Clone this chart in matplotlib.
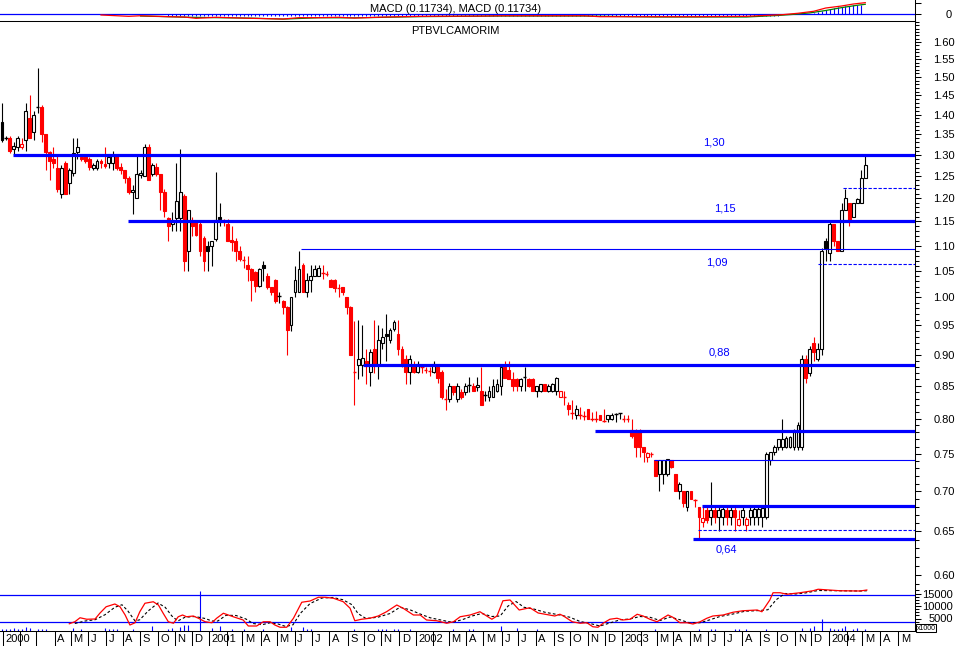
import numpy as np
import pandas as pd
import matplotlib
matplotlib.use('Agg')
import matplotlib.pyplot as plt
from matplotlib.ticker import FixedLocator, NullFormatter, NullLocator, FuncFormatter

plt.rcParams['font.family'] = ['Liberation Sans', 'DejaVu Sans']

# weekly candles, first week = 3 Jan 2000
opens = [1.38, 1.34, 1.34, 1.315, 1.32, 1.318, 1.337, 1.39, 1.355, 1.42,
         1.42, 1.35, 1.306, 1.29, 1.27, 1.21, 1.28, 1.235, 1.258, 1.306,
         1.295, 1.298, 1.29, 1.27, 1.27, 1.285, 1.278, 1.28, 1.28, 1.298,
         1.272, 1.265, 1.245, 1.213, 1.20, 1.252, 1.25, 1.32, 1.255, 1.272,
         1.255, 1.215, 1.157, 1.145, 1.157, 1.157, 1.205, 1.09, 1.15, 1.148,
         1.145, 1.115, 1.10, 1.10, 1.113, 1.16, 1.153, 1.145, 1.112, 1.11,
         1.09, 1.075, 1.062, 1.053, 1.047, 1.022, 1.062, 1.04, 1.02, 1.032,
         1.00, 0.994, 0.983, 0.95, 1.01, 1.01, 1.062, 1.01, 1.032, 1.04,
         1.04, 1.048, 1.046, 1.032, 1.032, 1.02, 1.02, 1.00, 0.983, 0.872,
         0.883, 0.883, 0.89, 0.872, 0.91, 0.883, 0.92, 0.935, 0.925, 0.944,
         0.935, 0.91, 0.893, 0.872, 0.883, 0.872, 0.88, 0.877, 0.876, 0.872,
         0.88, 0.872, 0.832, 0.83, 0.85, 0.83, 0.84, 0.84,
         0.85, 0.85, 0.848, 0.842, 0.834, 0.833, 0.833, 0.842, 0.85, 0.88,
         0.875, 0.86, 0.86, 0.85, 0.862, 0.86, 0.86, 0.842, 0.842, 0.852,
         0.842, 0.842, 0.842, 0.833, 0.834, 0.82, 0.81, 0.805, 0.806, 0.805,
         0.814, 0.80, 0.80, 0.805, 0.798, 0.80, 0.80, 0.806, 0.807, 0.80,
         0.80, 0.784, 0.782, 0.782, 0.76, 0.745, 0.752, 0.741, 0.722, 0.722,
         0.722, 0.741, 0.722, 0.70, 0.70, 0.68, 0.70, 0.69, 0.68, 0.661, 0.676,
         0.667, 0.676, 0.667, 0.667, 0.676, 0.667, 0.676, 0.658, 0.667, 0.658,
         0.667, 0.667, 0.667, 0.667, 0.667,
         0.741, 0.752, 0.76, 0.76, 0.76, 0.76, 0.76, 0.76, 0.76, 0.893,
         0.87, 0.92, 0.893, 0.91, 1.11, 1.085, 1.145, 1.11, 1.09, 1.174,
         1.19, 1.16, 1.19, 1.19, 1.245]
highs = [1.43, 1.345, 1.345, 1.33, 1.345, 1.34, 1.43, 1.45, 1.41, 1.525,
         1.425, 1.35, 1.31, 1.32, 1.30, 1.275, 1.285, 1.27, 1.34, 1.34,
         1.30, 1.30, 1.295, 1.28, 1.29, 1.29, 1.32, 1.30, 1.31, 1.30,
         1.28, 1.265, 1.25, 1.23, 1.30, 1.265, 1.325, 1.325, 1.28, 1.28,
         1.255, 1.22, 1.16, 1.17, 1.28, 1.315, 1.21, 1.175, 1.16, 1.15,
         1.15, 1.12, 1.11, 1.11, 1.26, 1.19, 1.155, 1.155, 1.14, 1.115,
         1.10, 1.08, 1.08, 1.055, 1.05, 1.055, 1.07, 1.045, 1.02, 1.035,
         1.01, 0.995, 0.985, 1.00, 1.06, 1.09, 1.065, 1.045, 1.062, 1.062,
         1.062, 1.062, 1.05, 1.035, 1.035, 1.025, 1.02, 1.00, 0.985, 0.958,
         0.96, 0.95, 0.91, 0.91, 0.96, 0.95, 0.945, 0.97, 0.945, 0.96,
         0.96, 0.915, 0.90, 0.90, 0.89, 0.89, 0.885, 0.88, 0.88, 0.89,
         0.885, 0.875, 0.845, 0.855, 0.85, 0.855, 0.845, 0.855,
         0.863, 0.855, 0.863, 0.88, 0.842, 0.85, 0.86, 0.86, 0.88, 0.89,
         0.89, 0.872, 0.862, 0.862, 0.88, 0.862, 0.862, 0.85, 0.852, 0.853,
         0.852, 0.855, 0.863, 0.842, 0.842, 0.825, 0.828, 0.82, 0.818, 0.812,
         0.815, 0.81, 0.812, 0.806, 0.815, 0.806, 0.808, 0.808, 0.808, 0.805,
         0.805, 0.80, 0.785, 0.785, 0.76, 0.752, 0.752, 0.741, 0.741, 0.741,
         0.741, 0.742, 0.722, 0.712, 0.70, 0.70, 0.70, 0.69, 0.68, 0.68, 0.68,
         0.712, 0.68, 0.68, 0.68, 0.68, 0.68, 0.68, 0.676, 0.68, 0.667,
         0.68, 0.68, 0.68, 0.68, 0.752,
         0.752, 0.762, 0.77, 0.80, 0.775, 0.775, 0.785, 0.795, 0.90, 0.90,
         0.915, 0.93, 0.92, 1.095, 1.115, 1.15, 1.145, 1.11, 1.19, 1.22,
         1.19, 1.19, 1.20, 1.264, 1.30]
lows = [1.33, 1.335, 1.305, 1.30, 1.31, 1.315, 1.31, 1.34, 1.335, 1.405,
        1.33, 1.265, 1.24, 1.27, 1.215, 1.20, 1.21, 1.21, 1.25, 1.29,
        1.285, 1.28, 1.265, 1.265, 1.265, 1.27, 1.27, 1.27, 1.265, 1.265,
        1.255, 1.235, 1.21, 1.165, 1.20, 1.245, 1.25, 1.24, 1.25, 1.25,
        1.175, 1.16, 1.11, 1.13, 1.13, 1.13, 1.05, 1.05, 1.12, 1.12,
        1.08, 1.05, 1.05, 1.06, 1.11, 1.14, 1.14, 1.11, 1.09, 1.07,
        1.07, 1.055, 1.03, 0.994, 1.01, 1.02, 1.03, 1.015, 1.005, 0.99,
        0.99, 0.97, 0.90, 0.94, 1.00, 1.01, 1.01, 1.00, 1.01, 1.04,
        1.04, 1.035, 1.04, 1.02, 1.01, 1.00, 1.005, 0.97, 0.90, 0.82,
        0.86, 0.865, 0.853, 0.85, 0.87, 0.86, 0.91, 0.89, 0.92, 0.94,
        0.90, 0.88, 0.853, 0.853, 0.87, 0.87, 0.87, 0.87, 0.865, 0.87,
        0.855, 0.83, 0.813, 0.825, 0.835, 0.825, 0.83, 0.835,
        0.84, 0.842, 0.842, 0.82, 0.826, 0.826, 0.833, 0.84, 0.836, 0.862,
        0.862, 0.842, 0.842, 0.842, 0.842, 0.848, 0.842, 0.833, 0.84, 0.842,
        0.84, 0.84, 0.835, 0.833, 0.82, 0.806, 0.80, 0.80, 0.80, 0.798,
        0.80, 0.796, 0.795, 0.80, 0.795, 0.795, 0.798, 0.795, 0.80, 0.795,
        0.795, 0.772, 0.745, 0.745, 0.738, 0.738, 0.745, 0.72, 0.70, 0.71,
        0.72, 0.73, 0.70, 0.69, 0.68, 0.675, 0.69, 0.68, 0.64, 0.655, 0.66,
        0.658, 0.66, 0.65, 0.658, 0.658, 0.658, 0.65, 0.656, 0.658, 0.65,
        0.658, 0.658, 0.658, 0.655, 0.665,
        0.735, 0.748, 0.755, 0.755, 0.758, 0.758, 0.755, 0.755, 0.755, 0.855,
        0.865, 0.89, 0.89, 0.90, 1.07, 1.07, 1.10, 1.09, 1.09, 1.174,
        1.14, 1.16, 1.19, 1.19, 1.245]
closes = [1.337, 1.342, 1.31, 1.322, 1.34, 1.327, 1.41, 1.34, 1.40, 1.42,
          1.35, 1.306, 1.285, 1.28, 1.22, 1.27, 1.21, 1.265, 1.305, 1.32,
          1.29, 1.285, 1.272, 1.276, 1.285, 1.28, 1.274, 1.295, 1.297, 1.27,
          1.264, 1.245, 1.215, 1.218, 1.255, 1.258, 1.32, 1.24, 1.275, 1.255,
          1.215, 1.172, 1.14, 1.15, 1.195, 1.215, 1.07, 1.175, 1.14, 1.122,
          1.09, 1.07, 1.09, 1.11, 1.153, 1.155, 1.148, 1.11, 1.108, 1.09,
          1.073, 1.072, 1.053, 1.032, 1.022, 1.053, 1.055, 1.02, 1.01, 0.994,
          1.002, 0.983, 0.942, 1.00, 1.032, 1.053, 1.01, 1.032, 1.04, 1.053,
          1.055, 1.045, 1.044, 1.02, 1.018, 1.017, 1.01, 0.983, 0.90, 0.871,
          0.893, 0.895, 0.882, 0.905, 0.883, 0.925, 0.93, 0.931, 0.942, 0.956,
          0.91, 0.885, 0.872, 0.893, 0.872, 0.885, 0.88, 0.875, 0.874, 0.885,
          0.862, 0.832, 0.83, 0.85, 0.84, 0.85, 0.832, 0.85,
          0.851, 0.842, 0.851, 0.82, 0.835, 0.842, 0.85, 0.852, 0.88, 0.862,
          0.861, 0.85, 0.849, 0.86, 0.863, 0.85, 0.842, 0.85, 0.852, 0.842,
          0.85, 0.852, 0.862, 0.842, 0.833, 0.814, 0.809, 0.814, 0.805, 0.804,
          0.80, 0.80, 0.799, 0.798, 0.797, 0.805, 0.806, 0.807, 0.808, 0.80,
          0.799, 0.775, 0.76, 0.759, 0.752, 0.751, 0.75, 0.72, 0.741, 0.742,
          0.743, 0.732, 0.70, 0.71, 0.685, 0.70, 0.69, 0.689, 0.667, 0.666, 0.664,
          0.676, 0.667, 0.676, 0.677, 0.667, 0.676, 0.667, 0.665, 0.676, 0.665,
          0.676, 0.677, 0.678, 0.679, 0.75,
          0.752, 0.76, 0.77, 0.771, 0.772, 0.773, 0.78, 0.79, 0.893, 0.862,
          0.91, 0.905, 0.91, 1.09, 1.095, 1.145, 1.11, 1.09, 1.174, 1.20,
          1.153, 1.19, 1.198, 1.245, 1.275]

# drawn support / resistance levels
lvl_price = [1.30, 1.15, 1.0925, 0.883, 0.782, 0.741, 0.681, 0.6406, 1.224, 1.063, 0.652]
lvl_from = [2.8, 31.8, 75.5, 91.2, 149.7, 164.7, 176.8, 174.6, 212.3, 206.1, 175.8]
lvl_style = ['thick', 'thick', 'thin', 'thick', 'thick', 'thin', 'thick', 'thick', 'dash', 'dash', 'dash']
lvl_text = ['1,30', '1,15', '1,09', '0,88', '0,64']
lvl_text_wk = [177.0, 179.8, 177.8, 178.5, 180.3]
lvl_text_price = [1.331, 1.177, 1.067, 0.903, 0.629]

# MACD panel
macd_wk = [25, 32, 35, 42, 46, 49, 54, 63, 71, 75, 80, 85, 89, 97, 106, 121, 126, 147, 151, 165,
           176, 188, 191, 197, 201, 205, 208, 212, 215, 218]
macd_val = [-0.007, -0.021, -0.015, -0.025, -0.028, -0.042, -0.031, -0.042, -0.049, -0.035,
            -0.035, -0.031, -0.039, -0.028, -0.021, -0.018, -0.015, -0.015, -0.025, -0.025,
            -0.025, -0.021, -0.015, -0.004, 0.011, 0.032, 0.066, 0.087, 0.108, 0.122]
sig_wk = [35, 42, 46, 54, 63, 71, 80, 89, 106, 126, 147, 165, 188, 196, 200, 204, 208, 212, 216, 218]
sig_val = [-0.018, -0.025, -0.03, -0.035, -0.04, -0.05, -0.036, -0.037, -0.024, -0.018,
           -0.018, -0.028, -0.028, -0.012, 0.0, 0.015, 0.04, 0.07, 0.095, 0.105]
hist_neg_from, hist_neg_to, hist_neg_val = 42, 196, -0.018
hist_pos_wk = [205, 206, 207, 208, 209, 210, 211, 212, 213, 214, 215, 216, 217]
hist_pos_val = [0.01, 0.021, 0.035, 0.045, 0.056, 0.063, 0.073, 0.08, 0.087, 0.092, 0.097, 0.10, 0.10]

# volume panel (thousands)
vline_wk = [17.0, 18.4, 19.7, 21.4, 23.5, 24.7, 26.3, 28.5, 29.8, 31.1, 32.3, 33.6, 34.8, 36.1, 38.2,
            39.5, 40.7, 42.0, 43.3, 44.5, 45.6, 46.6, 48.3, 49.6, 51.3, 53.0, 54.2, 55.9, 58.4, 60.9,
            62.2, 64.3, 66.0, 67.7, 68.9, 70.2, 71.9, 73.6, 75.7, 77.8, 79.9, 81.6, 83.7, 86.2, 87.9,
            89.1, 90.8, 92.9, 95.0, 97.1, 99.7, 101.3, 103.9, 105.6, 107.2, 109.8, 112.3, 114.0, 115.7,
            118.2, 120.7, 123.7, 125.0, 126.5, 128.3, 129.0, 130.6, 133.3, 135.4, 139.6, 140.9, 141.7,
            144.0, 146.0, 147.7, 149.2, 150.5, 151.8, 153.5, 155.3, 156.8, 158.6, 160.4, 161.9, 163.6,
            165.4, 168.2, 169.4, 171.2, 173.0, 174.5, 176.3, 178.0, 179.5, 182.1, 184.6, 187.1, 190.7,
            191.9, 193.9, 194.7, 196.5, 198.2, 201.5, 204.8, 206.1, 211.6, 216.7, 218.4]
vline_val = [2.9, 3.7, 5.3, 4.7, 4.8, 7.1, 9.7, 10.8, 9.7, 6.4, 2.4, 3.3, 7.7, 11.1, 11.7,
             10.4, 7.1, 3.7, 3.1, 5.7, 6.4, 5.7, 6.0, 5.1, 3.7, 3.3, 5.1, 7.1, 5.7, 4.4,
             2.0, 2.0, 3.7, 3.7, 2.4, 1.5, 1.5, 5.1, 11.5, 12.0, 13.5, 13.5, 13.1, 11.7, 9.1,
             4.1, 4.7, 5.1, 6.0, 7.7, 10.4, 9.1, 6.4, 6.4, 4.4, 4.1, 3.1, 3.7, 5.7,
             6.4, 7.7, 4.7, 6.0, 12.1, 12.4, 11.2, 8.4, 9.3, 7.2, 6.0, 6.7, 6.1,
             3.7, 3.1, 3.3, 1.7, 1.5, 3.1, 4.7, 5.1, 4.4, 4.7, 6.7, 6.0, 4.7,
             3.7, 6.4, 5.5, 3.3, 3.3, 2.8, 3.7, 5.1, 6.0, 6.4, 7.5, 8.1, 8.4,
             7.7, 12.4, 15.3, 15.3, 14.7, 15.3, 16.1, 16.7, 16.1, 16.0, 16.4]
vsig_wk = [18.4, 21.0, 23.5, 26.0, 28.5, 30.3, 31.8, 33.6, 34.8, 36.9, 39.4, 41.2, 42.9, 44.4, 46.2,
           48.7, 51.3, 53.0, 54.5, 56.6, 59.1, 61.6, 63.4, 65.7, 67.7, 69.7, 71.7, 73.5, 75.3, 77.8,
           80.8, 83.6, 86.1, 88.4, 89.9, 91.9, 94.9, 98.0, 100.5, 103.0, 105.6, 108.1, 111.1, 113.6,
           116.2, 118.7, 121.2, 123.7, 125.8, 127.8, 129.8, 131.8, 134.3, 137.1, 140.9, 143.4, 146.0,
           149.0, 151.0, 153.5, 156.1, 158.6, 161.1, 163.6, 166.2, 168.7, 171.2, 173.7, 176.3, 178.8,
           181.3, 184.6, 187.6, 191.4, 193.4, 195.5, 197.7, 200.3, 202.8, 206.1, 211.6, 216.7, 218.4]
vsig_val = [3.0, 4.0, 4.5, 6.5, 9.5, 10.5, 8.0, 4.0, 4.5, 8.0, 11.2, 9.5, 6.0, 4.0, 5.5,
            5.8, 5.0, 4.0, 4.0, 6.3, 6.2, 4.8, 3.0, 2.5, 3.3, 2.8, 1.8, 2.5, 7.0, 11.0,
            13.2, 13.4, 12.5, 10.5, 7.0, 5.0, 5.5, 7.0, 9.5, 8.5, 6.8, 5.3, 4.3, 3.5,
            4.5, 6.0, 7.0, 5.8, 6.0, 10.0, 11.8, 9.5, 8.8, 7.5, 6.4, 5.5, 3.8,
            2.8, 2.0, 3.2, 4.5, 4.8, 5.8, 5.5, 4.2, 5.6, 4.5, 3.2, 3.3, 4.5,
            5.8, 6.8, 7.9, 8.2, 8.5, 12.5, 15.0, 14.8, 15.2, 16.2, 16.1, 16.0, 16.1]
vol_wk = [0, 1, 2, 3, 4, 5, 6, 7, 9, 10, 11, 18, 20, 26, 27, 28, 29, 33, 38, 42,
          43, 45, 46, 47, 50, 53, 55, 58, 61, 66, 73, 76, 77, 78, 89, 95, 96, 97, 99, 100,
          103, 114, 118, 119, 126, 130, 135, 165, 176, 179, 180, 185, 186, 188, 193, 202, 204, 205, 207, 209,
          210, 211, 212, 213, 215, 216, 218]
vol_k = [0.8, 0.8, 0.8, 1.2, 0.8, 0.8, 1.6, 1.2, 0.8, 0.8, 0.8, 1.2, 0.8, 1.2, 0.8, 0.8, 0.8, 0.8, 2.0, 0.8,
         1.2, 1.6, 2.4, 2.4, 16.0, 1.2, 2.0, 0.8, 0.8, 0.8, 1.6, 1.6, 0.8, 0.8, 0.8, 0.8, 0.8, 0.8, 0.8, 0.8,
         0.8, 0.8, 0.8, 0.8, 2.0, 1.2, 0.8, 0.8, 0.8, 0.8, 0.8, 0.8, 0.8, 0.8, 0.8, 1.2, 1.2, 2.0, 4.8, 1.2,
         0.8, 0.8, 1.2, 2.0, 0.8, 1.2, 0.8]
vol_hlines = [14.4, 3.6]

BLUE = '#0000ff'
RED = '#ff0000'
GREEN = '#008000'
W, H = 959, 646
fig = plt.figure(figsize=(W / 100, H / 100), dpi=100)


def box(x0, y0, x1, y1):
    return [x0 / W, 1 - y1 / H, (x1 - x0) / W, (y1 - y0) / H]


ax_m = fig.add_axes(box(0, 0, 915, 21))
ax = fig.add_axes(box(0, 21, 915, 588), sharex=ax_m)
ax_v = fig.add_axes(box(0, 588, 915, 631), sharex=ax_m)
for a in (ax_m, ax, ax_v):
    a.set_facecolor('none')
    for s in a.spines.values():
        s.set_linewidth(0.75)
    a.spines['left'].set_visible(False)
ax_m.spines['top'].set_visible(False)
ax_m.spines['bottom'].set_visible(False)
ax.spines['bottom'].set_visible(False)
ax_v.spines['top'].set_visible(False)

# ---- candles
o = np.array(opens); hi = np.array(highs); lo = np.array(lows); c = np.array(closes)
wk = np.arange(len(c))
up = np.r_[True, c[1:] > c[:-1]]
cols = np.where(up, 'black', RED)
ax.vlines(wk, lo, hi, colors=cols, lw=0.8, zorder=2)
for i in wk:
    top, bot = max(o[i], c[i]), min(o[i], c[i])
    if top / bot < 1.003:
        ax.hlines(c[i], i - 0.45, i + 0.45, colors=cols[i], lw=1.0, zorder=3)
    else:
        face = 'white' if c[i] > o[i] else cols[i]
        ax.bar(i, top - bot, bottom=bot, width=0.72, facecolor=face, edgecolor=cols[i],
               lw=0.8, zorder=3)

for p, x0, st in zip(lvl_price, lvl_from, lvl_style):
    if st == 'thick':
        ax.hlines(p, x0, 240, colors=BLUE, lw=2.3, zorder=4)
    elif st == 'thin':
        ax.hlines(p, x0, 240, colors=BLUE, lw=0.8, zorder=4)
    else:
        ax.hlines(p, x0, 240, colors=BLUE, lw=0.8, linestyles=(0, (3, 1.5)), zorder=4)
for t, x, p in zip(lvl_text, lvl_text_wk, lvl_text_price):
    ax.text(x, p, t, color=BLUE, fontsize=8, va='center', ha='left')

ax.set_yscale('log')
ax.set_ylim(0.5858, 1.663)
ax.yaxis.tick_right()
ax.yaxis.set_major_locator(FixedLocator(np.arange(0.60, 1.601, 0.05)))
ax.yaxis.set_major_formatter(FuncFormatter(lambda v, p: f'{v:.2f}'))
ax.yaxis.set_minor_locator(FixedLocator(np.arange(0.59, 1.665, 0.01)))
ax.yaxis.set_minor_formatter(NullFormatter())
ax.tick_params(axis='y', which='major', length=4.3, width=0.75, pad=24.5, labelsize=8)
ax.tick_params(axis='y', which='minor', length=2.9, width=0.75)

# ---- MACD
ax_m.axhline(0, color=BLUE, lw=0.9, zorder=1)
hw = np.arange(hist_neg_from, hist_neg_to + 1)
ax_m.vlines(hw, hist_neg_val, 0, colors=BLUE, lw=0.7, zorder=2)
ax_m.vlines(hist_pos_wk, 0, hist_pos_val, colors=BLUE, lw=0.8, zorder=2)
ax_m.plot(sig_wk, sig_val, color=GREEN, lw=0.9, zorder=3)
ax_m.plot(macd_wk, macd_val, color=RED, lw=0.9, zorder=4)
ax_m.set_ylim(-0.07, 0.15)
ax_m.yaxis.tick_right()
ax_m.yaxis.set_major_locator(FixedLocator([0, 0.12]))
ax_m.yaxis.set_major_formatter(FuncFormatter(lambda v, p: '0' if abs(v) < 1e-9 else ''))
ax_m.tick_params(axis='y', length=4.3, width=0.75, pad=22.3, labelsize=8)

# ---- volume panel
ax_v.vlines(vol_wk, 0, vol_k, colors=BLUE, lw=0.8, zorder=2)
for v in vol_hlines:
    ax_v.axhline(v, color=BLUE, lw=0.9, zorder=1)
ax_v.plot(vsig_wk, vsig_val, color='black', lw=0.8, ls=(0, (2.5, 2)), zorder=3)
ax_v.plot(vline_wk, vline_val, color=RED, lw=0.9, zorder=4)
ax_v.set_ylim(0, 17.2)
ax_v.yaxis.tick_right()
ax_v.yaxis.set_major_locator(FixedLocator([5, 10, 15]))
ax_v.yaxis.set_major_formatter(FuncFormatter(lambda v, p: f'{int(v * 1000)}'))
ax_v.yaxis.set_minor_locator(FixedLocator(np.arange(1.25, 17.2, 1.25)))
ax_v.tick_params(axis='y', which='major', length=4.3, width=0.75, pad=23.1, labelsize=8)
ax_v.tick_params(axis='y', which='minor', length=2.9, width=0.75)

for a in (ax_m, ax, ax_v):
    for t in a.get_yticklabels():
        t.set_horizontalalignment('right')

# ---- time axis
start = pd.Timestamp('2000-01-03')
months = pd.date_range('2000-01-01', '2004-05-31', freq='BMS')
tick_pos = [(m - start).days / 7 + 0.3 for m in months]
ax_v.xaxis.set_major_locator(FixedLocator(tick_pos))
ax_v.xaxis.set_minor_locator(NullLocator())
ax_v.set_xlim(-0.505, 230.56)
for a in (ax_m, ax):
    a.tick_params(axis='x', which='both', bottom=False, labelbottom=False, top=False)
ax_v.tick_params(axis='x', which='major', direction='out', length=10.8, width=0.75, labelbottom=False)
letters = 'JFMAMJJASOND'
for m, pos in zip(months, tick_pos):
    if m.month == 2 or (m.year == 2000 and m.month == 3):
        continue
    lab = str(m.year) if m.month == 1 else letters[m.month - 1]
    ax_v.annotate(lab, xy=(pos, 0), xycoords=('data', 'axes fraction'), xytext=(1.8, -5.4),
                  textcoords='offset points', ha='left', va='center', fontsize=8, annotation_clip=False)

fig.text(456 / W, 1 - 9.5 / H, 'MACD (0.11734), MACD (0.11734)', ha='center', va='center', fontsize=8)
fig.text(455 / W, 1 - 31 / H, 'PTBVLCAMORIM', ha='center', va='center', fontsize=8)
fig.text(926 / W, 1 - 628 / H, 'x1000', ha='center', va='center', fontsize=5, zorder=10,
         bbox=dict(facecolor='white', edgecolor='black', boxstyle='square,pad=0.1', lw=0.75))

fig.savefig('out.png', dpi=100)
